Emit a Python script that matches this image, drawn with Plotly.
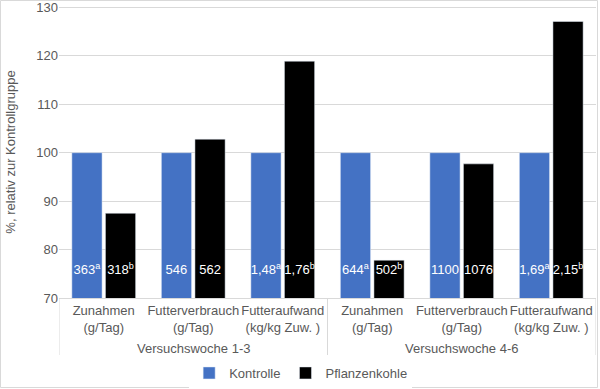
import plotly.graph_objects as go

groups = ["Versuchswoche 1-3", "Versuchswoche 4-6"]
categories = ["Zunahmen<br>(g/Tag)", "Futterverbrauch<br>(g/Tag)", "Futteraufwand<br>(kg/kg Zuw. )"] * 2
kontrolle = [100, 100, 100, 100, 100, 100]
pflanzenkohle = [87.5, 102.8, 118.9, 77.8, 97.7, 127.1]
kontrolle_labels = ["363<sup>a</sup>", "546", "1,48<sup>a</sup>", "644<sup>a</sup>", "1100", "1,69<sup>a</sup>"]
pflanzen_labels = ["318<sup>b</sup>", "562", "1,76<sup>b</sup>", "502<sup>b</sup>", "1076", "2,15<sup>b</sup>"]
y_ticks = [70, 80, 90, 100, 110, 120, 130]

FONT = "Liberation Sans, Arial, sans-serif"
GRAY = "#595959"
LINE = "#d9d9d9"
LABEL_Y = 75.6  # vertical level of the value labels inside the bars

xpos = list(range(len(categories)))
per_group = len(categories) // len(groups)

fig = go.Figure()
fig.add_trace(go.Bar(name="Kontrolle", x=xpos, y=kontrolle, marker_color="#4472C4",
                     offsetgroup="k", hoverinfo="skip"))
fig.add_trace(go.Bar(name="Pflanzenkohle", x=xpos, y=pflanzenkohle, marker_color="#000000",
                     offsetgroup="p", hoverinfo="skip"))
fig.add_trace(go.Scatter(x=xpos, y=[LABEL_Y] * len(xpos), mode="text", text=kontrolle_labels,
                         textposition="middle center", offsetgroup="k", showlegend=False,
                         cliponaxis=False, hoverinfo="skip",
                         textfont=dict(color="white", size=13, family=FONT)))
fig.add_trace(go.Scatter(x=xpos, y=[LABEL_Y] * len(xpos), mode="text", text=pflanzen_labels,
                         textposition="middle center", offsetgroup="p", showlegend=False,
                         cliponaxis=False, hoverinfo="skip",
                         textfont=dict(color="white", size=13, family=FONT)))

shapes = []
for k in range(len(groups) + 1):
    xb = k * per_group - 0.5
    shapes.append(dict(type="line", xref="x", yref="paper", x0=xb, x1=xb, y0=0, y1=-57 / 292,
                       line=dict(color=LINE, width=1)))
shapes.append(dict(type="rect", xref="paper", yref="paper",
                   x0=-58.5 / 537, x1=538.5 / 537, y0=-89.5 / 292, y1=1 + 5.5 / 292,
                   line=dict(color=LINE, width=1), fillcolor="rgba(0,0,0,0)", layer="below"))

annotations = []
for g, name in enumerate(groups):
    annotations.append(dict(text=name, xref="x", yref="paper", x=g * per_group + (per_group - 1) / 2,
                            y=-50 / 292, yanchor="middle", showarrow=False,
                            font=dict(size=13, color=GRAY, family=FONT)))

fig.update_layout(
    width=600, height=389,
    margin=dict(l=59, r=4, t=6, b=91, autoexpand=False),
    paper_bgcolor="white", plot_bgcolor="white",
    font=dict(family=FONT, color=GRAY, size=13),
    barmode="group", bargap=0.25, bargroupgap=0.1,
    scattermode="group", scattergap=0.25,
    showlegend=True,
    legend=dict(orientation="h", x=0.45, xanchor="center", y=-75 / 292, yanchor="middle",
                font=dict(size=13, color=GRAY), itemwidth=30),
    yaxis=dict(range=[70, 130.3], tickmode="array", tickvals=y_ticks,
               showgrid=True, gridcolor=LINE, gridwidth=1,
               zeroline=False, showline=False, ticks="", tickfont=dict(size=13, color=GRAY),
               automargin=False,
               title=dict(text="%, relativ zur Kontrollgruppe", font=dict(size=13, color=GRAY), standoff=17)),
    xaxis=dict(range=[-0.5, len(categories) - 0.5], tickvals=xpos, ticktext=categories,
               showline=True, linecolor=LINE, ticks="", tickangle=0, showgrid=False, zeroline=False,
               automargin=False, tickfont=dict(size=13, color=GRAY)),
    shapes=shapes, annotations=annotations,
)

fig.write_html("out.html", config={"displayModeBar": False},
               post_script="document.body.style.margin='0';")
